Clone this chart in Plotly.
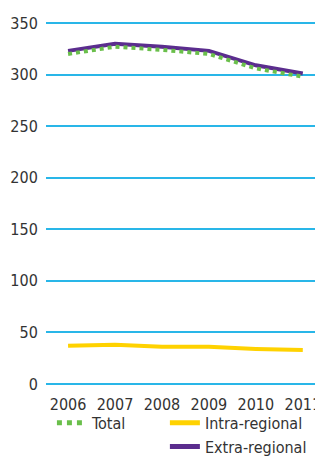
import plotly.graph_objects as go

years = [2006, 2007, 2008, 2009, 2010, 2011]
total = [320, 327, 324, 320, 306, 298]
intra = [37, 38, 36, 36, 34, 33]
extra = [323, 330, 327, 323, 309, 301]

FONT = "DejaVu Sans Condensed, Liberation Sans Narrow, sans-serif"
FS = 16

fig = go.Figure()
fig.add_trace(go.Scatter(x=years, y=intra, name="Intra-regional", mode="lines",
                         line=dict(color="#ffd200", width=4), legend="legend2"))
fig.add_trace(go.Scatter(x=years, y=extra, name="Extra-regional", mode="lines",
                         line=dict(color="#5b2d8e", width=4), legend="legend2"))
fig.add_trace(go.Scatter(x=years, y=total, name="Total", mode="lines",
                         line=dict(color="#6abf4b", width=4, dash="dot"), legend="legend"))

leg_common = dict(orientation="v", yref="container", xanchor="left", yanchor="top",
                  traceorder="normal", bgcolor="rgba(0,0,0,0)",
                  font=dict(family=FONT, size=FS, color="#333333"),
                  itemsizing="constant", tracegroupgap=0)

fig.update_layout(
    width=315, height=457,
    margin=dict(l=46, r=0, t=22, b=73, autoexpand=False),
    plot_bgcolor="white", paper_bgcolor="white",
    font=dict(family=FONT, size=FS, color="#333333"),
    showlegend=True,
    legend=dict(x=0.022, y=0.112, **leg_common),
    legend2=dict(x=0.442, y=0.112, **leg_common),
    xaxis=dict(range=[2005.53, 2011.26], tickvals=years, showgrid=False,
               zeroline=False, showline=False, ticks="outside", ticklen=6,
               tickcolor="rgba(0,0,0,0)", ticklabeloverflow="allow",
               tickfont=dict(size=FS), automargin=False),
    yaxis=dict(range=[0, 351], tickvals=[0, 50, 100, 150, 200, 250, 300, 350],
               showgrid=True, gridcolor="#29b6e8", gridwidth=1.5,
               zeroline=True, zerolinecolor="#29b6e8", zerolinewidth=1.5,
               ticks="outside", ticklen=4, tickcolor="rgba(0,0,0,0)",
               tickfont=dict(size=FS), automargin=False),
)

fig.write_html("out.html", config={"displayModeBar": False},
               post_script="document.body.style.margin='0';document.body.style.overflow='hidden';")
